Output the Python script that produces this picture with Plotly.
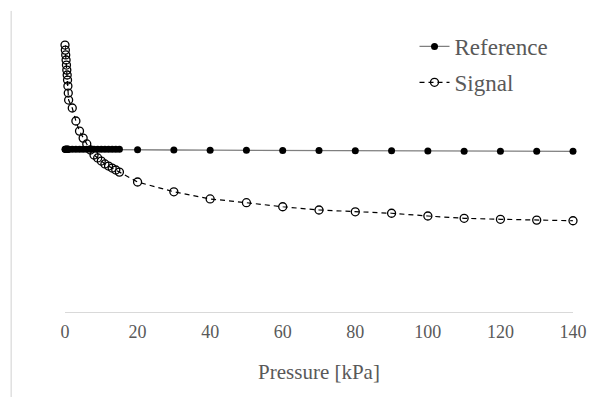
import plotly.graph_objects as go

# Pressure sample points [kPa]
pressure = [0, 0.1, 0.2, 0.3, 0.4, 0.5, 0.6, 0.7, 0.8, 0.9, 1,
            2, 3, 4, 5, 6, 7, 8, 9, 10, 11, 12, 13, 14, 15,
            20, 30, 40, 50, 60, 70, 80, 90, 100, 110, 120, 130, 140]

reference = [1.000, 1.000, 1.000, 1.000, 1.000, 1.000, 1.000, 1.000, 1.000, 1.000, 1.000,
             1.000, 1.000, 1.000, 1.000, 1.000, 1.000, 1.000, 1.000, 1.000, 1.000, 1.000, 1.000, 1.000, 1.000,
             0.997, 0.996, 0.995, 0.994, 0.993, 0.993, 0.992, 0.991, 0.989, 0.988, 0.988, 0.988, 0.988]

signal = [1.641, 1.610, 1.580, 1.549, 1.518, 1.487, 1.457, 1.426, 1.389, 1.346, 1.303,
          1.254, 1.174, 1.112, 1.069, 1.033, 0.996, 0.965, 0.947, 0.928, 0.910, 0.897, 0.885, 0.873, 0.860,
          0.799, 0.739, 0.695, 0.672, 0.647, 0.627, 0.616, 0.607, 0.590, 0.576, 0.570, 0.565, 0.561]

x_ticks = [0, 20, 40, 60, 80, 100, 120, 140]

FONT = "Liberation Serif, Times New Roman, serif"
TXT = "#595959"

fig = go.Figure()
fig.add_trace(go.Scatter(
    x=pressure, y=reference, name="Reference", mode="lines+markers",
    line=dict(color="#7f7f7f", width=1.3),
    marker=dict(symbol="circle", size=7, color="black", line=dict(color="black", width=0)),
    cliponaxis=False, legendgroup="a"))
fig.add_trace(go.Scatter(
    x=pressure, y=signal, name="Signal", mode="lines+markers",
    line=dict(color="black", width=1.2, dash="5px,4px"),
    marker=dict(symbol="circle-open", size=8, color="black", line=dict(color="black", width=1.3)),
    cliponaxis=False, legendgroup="b"))

fig.update_layout(
    width=589, height=397,
    margin=dict(l=65, r=16, t=20, b=85),
    paper_bgcolor="white", plot_bgcolor="white",
    font=dict(family=FONT, color=TXT, size=18),
    showlegend=True,
    legend=dict(x=0.688, y=0.983, xanchor="left", yanchor="top",
                font=dict(family=FONT, size=23, color=TXT),
                tracegroupgap=3, bgcolor="rgba(0,0,0,0)"),
    xaxis=dict(range=[0, 140], tickvals=x_ticks, ticktext=[str(v) for v in x_ticks],
               showgrid=False, zeroline=False, showline=True, linecolor="#d9d9d9", linewidth=1,
               ticks="", ticklabelstandoff=3, automargin=False, ticklabeloverflow="allow",
               tickfont=dict(family=FONT, size=18, color=TXT),
               title=dict(text="Pressure [kPa]", font=dict(family=FONT, size=21, color=TXT), standoff=23)),
    yaxis=dict(range=[0, 1.795], visible=False),
    shapes=[dict(type="line", xref="paper", yref="paper",
                 x0=-0.106, x1=-0.106, y0=1.031, y1=-0.3,
                 line=dict(color="#d0d0d0", width=1))],
)

fig.write_html("out.html")
